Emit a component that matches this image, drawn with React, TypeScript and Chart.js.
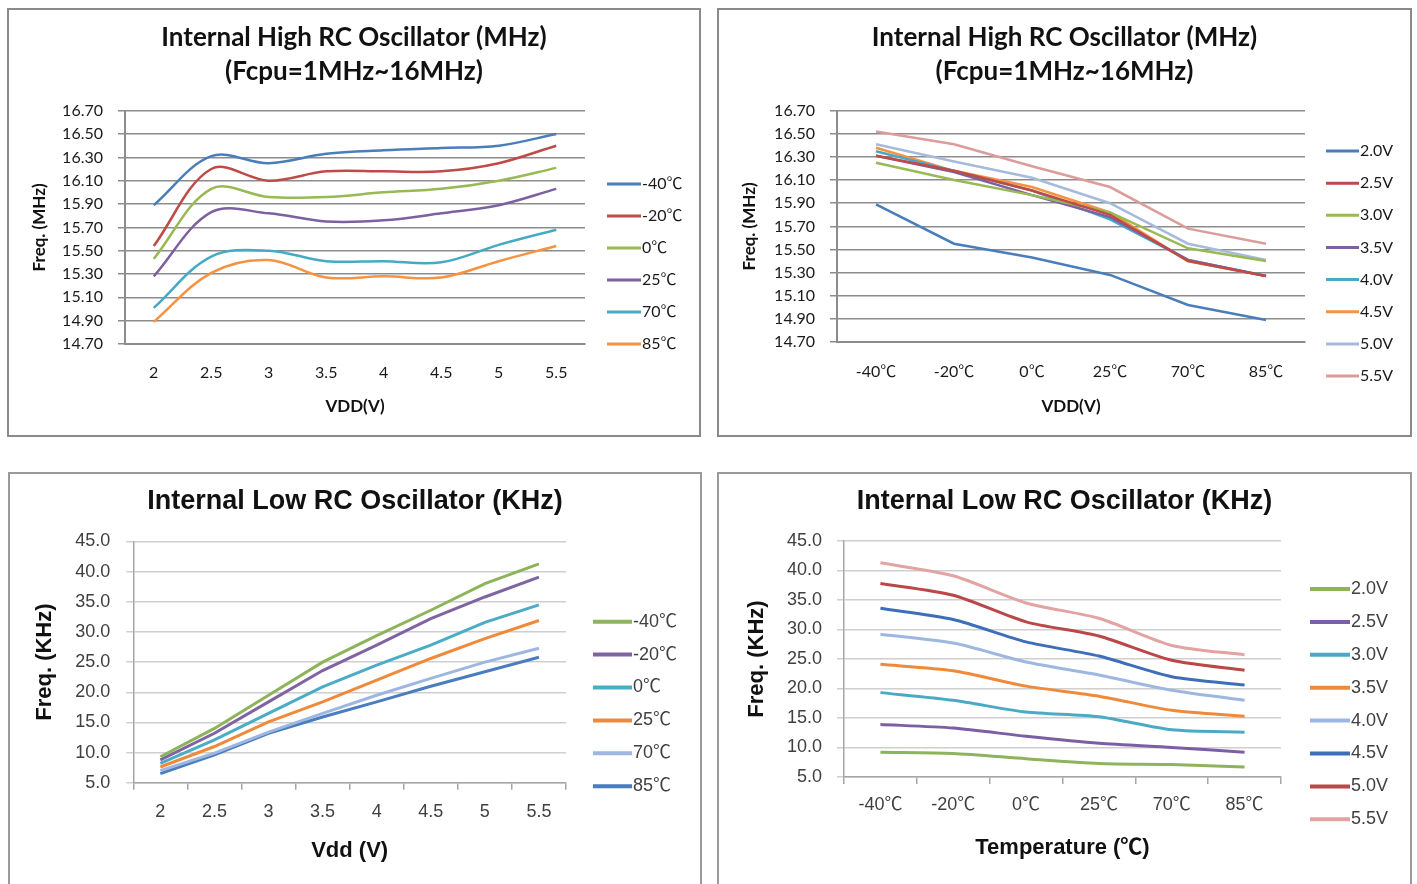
import React, { useEffect, useRef } from 'react';
import { Chart, registerables } from 'chart.js';

Chart.register(...registerables);

// ---------- categories / tick labels ----------
const vddLabels = ['2', '2.5', '3', '3.5', '4', '4.5', '5', '5.5'];
const tempLabels = ['-40℃', '-20℃', '0℃', '25℃', '70℃', '85℃'];
const voltNames = ['2.0V', '2.5V', '3.0V', '3.5V', '4.0V', '4.5V', '5.0V', '5.5V'];

// ---------- Internal High RC (MHz) vs VDD, one series per temperature ----------
const hiVddM40 = [15.89, 16.31, 16.25, 16.33, 16.36, 16.38, 16.4, 16.5];
const hiVddM20 = [15.54, 16.2, 16.1, 16.18, 16.18, 16.18, 16.25, 16.4];
const hiVdd0 = [15.43, 16.03, 15.96, 15.96, 16.0, 16.03, 16.1, 16.21];
const hiVdd25 = [15.28, 15.83, 15.82, 15.75, 15.76, 15.82, 15.89, 16.03];
const hiVdd70 = [15.01, 15.45, 15.5, 15.41, 15.41, 15.4, 15.55, 15.68];
const hiVdd85 = [14.89, 15.31, 15.42, 15.27, 15.28, 15.27, 15.41, 15.54];

// ---------- Internal High RC (MHz) vs temperature, one series per voltage ----------
const hiT20 = [15.89, 15.55, 15.43, 15.28, 15.02, 14.89];
const hiT25 = [16.31, 16.18, 16.01, 15.8, 15.4, 15.27];
const hiT30 = [16.25, 16.1, 15.97, 15.82, 15.51, 15.4];
const hiT35 = [16.31, 16.17, 15.97, 15.78, 15.41, 15.27];
const hiT40 = [16.35, 16.18, 16.01, 15.76, 15.41, 15.27];
const hiT45 = [16.38, 16.18, 16.04, 15.82, 15.4, 15.27];
const hiT50 = [16.41, 16.26, 16.12, 15.9, 15.55, 15.41];
const hiT55 = [16.52, 16.41, 16.22, 16.04, 15.68, 15.55];

// ---------- Internal Low RC (KHz) vs Vdd, one series per temperature ----------
const loVddM40 = [9.3, 14.0, 19.5, 25.0, 29.4, 33.6, 38.0, 41.3];
const loVddM20 = [8.8, 13.2, 18.4, 23.6, 27.8, 32.2, 35.8, 39.1];
const loVdd0 = [8.2, 12.1, 16.5, 20.9, 24.5, 27.8, 31.6, 34.5];
const loVdd25 = [7.6, 11.0, 15.1, 18.4, 22.0, 25.6, 28.9, 31.9];
const loVdd70 = [7.0, 9.9, 13.4, 16.5, 19.5, 22.3, 25.0, 27.3];
const loVdd85 = [6.5, 9.6, 13.2, 15.9, 18.4, 21.0, 23.4, 25.8];

// ---------- Internal Low RC (KHz) vs temperature, one series per voltage ----------
const loT20 = [9.2, 9.0, 8.1, 7.3, 7.1, 6.7];
const loT25 = [13.9, 13.3, 11.9, 10.7, 10.0, 9.2];
const loT30 = [19.3, 18.0, 16.0, 15.2, 13.0, 12.6];
const loT35 = [24.1, 23.0, 20.4, 18.7, 16.3, 15.3];
const loT40 = [29.2, 27.7, 24.5, 22.3, 19.7, 18.0];
const loT45 = [33.6, 31.7, 27.9, 25.5, 22.0, 20.6];
const loT50 = [37.8, 35.8, 31.3, 28.9, 24.8, 23.1];
const loT55 = [41.3, 39.1, 34.5, 31.9, 27.3, 25.7];

// ---------- colours ----------
const hiTempColors = ['#4A7EBB', '#BE4B48', '#98B954', '#7D60A0', '#46AAC5', '#F69240'];
const hiVoltColors = ['#4A7EBB', '#BE4B48', '#98B954', '#7D60A0', '#46AAC5', '#F69240', '#A5BADC', '#DC9C9A'];
const loTempColors = ['#8DB35B', '#8064A2', '#4BACC6', '#F08A3B', '#9DB7E0', '#4A7DC0'];
const loVoltColors = ['#8DB35B', '#7B5FA6', '#4BAAC3', '#F08A3B', '#9DB7E0', '#3E6EB8', '#BA4848', '#E3A3A3'];

const HI_FONT = "Lato, 'Noto Sans CJK SC', sans-serif";
const LO_FONT = "'Liberation Sans', Arial, 'Noto Sans CJK SC', sans-serif";

const sideLegend = {
  id: 'sideLegend',
  afterDraw(chart: any, _a: any, o: any) {
    const ctx = chart.ctx;
    ctx.save();
    ctx.font = `${o.size}px ${o.family}`;
    ctx.textBaseline = 'middle';
    ctx.textAlign = 'left';
    chart.data.datasets.forEach((ds: any, i: number) => {
      const y = o.y + i * o.dy;
      ctx.strokeStyle = ds.borderColor;
      ctx.lineWidth = o.lw;
      ctx.beginPath();
      ctx.moveTo(o.x, y);
      ctx.lineTo(o.x + o.len, y);
      ctx.stroke();
      ctx.fillStyle = o.color;
      ctx.fillText(ds.label, o.x + o.len + 1, y);
    });
    ctx.restore();
  },
};

type Spec = any;

function buildConfig(s: Spec): any {
  const L = s.L - s.ox, R = s.R - s.ox, T = s.T - s.oy, B = s.B - s.oy;
  const tLH = s.titleLH;
  const tPadTop = s.titleY - s.oy - tLH / 2;
  const tPadBottom = T - tPadTop - s.title.length * tLH;
  const yTitleLH = s.axisTitleSize * 1.2;
  const xTickLH = s.tickSize * 1.2;
  const xTickPad = s.xTickY - s.oy - B - s.xTl - xTickLH / 2;
  const xTitlePadB = s.h - (s.xTitleY - s.oy) - yTitleLH / 2;
  const tickFont = { family: s.family, size: s.tickSize };
  const axTitleFont = { family: s.family, size: s.axisTitleSize, weight: 'bold', lineHeight: 1.2 };
  return {
    type: 'line',
    data: {
      labels: s.labels,
      datasets: s.series.map((d: any, i: number) => ({
        label: s.names[i],
        data: d,
        borderColor: s.colors[i],
        backgroundColor: s.colors[i],
        borderWidth: s.lineWidth,
        pointRadius: 0,
        tension: s.tension,
        yAxisID: 'y',
        xAxisID: 'x',
      })),
    },
    options: {
      responsive: false,
      animation: false,
      devicePixelRatio: 1,
      events: [],
      layout: { padding: 0 },
      plugins: {
        legend: { display: false },
        tooltip: { enabled: false },
        title: {
          display: true,
          text: s.title,
          color: '#111',
          font: { family: s.family, size: s.titleSize, weight: 'bold', lineHeight: `${tLH}px` },
          padding: { top: tPadTop, bottom: tPadBottom },
        },
        sideLegend: {
          x: s.lg.x - s.ox,
          y: s.lg.y - s.oy,
          dy: s.lg.dy,
          len: s.lg.len,
          lw: s.lg.lw,
          size: s.lg.size,
          family: s.family,
          color: s.textColor,
        },
      },
      scales: {
        x: {
          type: 'category',
          offset: true,
          grid: {
            display: s.xTl > 0,
            drawOnChartArea: false,
            drawTicks: s.xTl > 0,
            tickLength: s.xTl,
            offset: true,
            color: s.axisColor,
            lineWidth: 1.5,
          },
          border: { display: true, color: s.axisColor, width: s.axisWidth },
          ticks: { font: tickFont, color: s.textColor, padding: xTickPad, autoSkip: false, maxRotation: 0 },
          title: {
            display: true,
            text: s.xTitle,
            color: '#111',
            font: axTitleFont,
            padding: { top: 0, bottom: xTitlePadB },
          },
          afterFit: (sc: any) => {
            sc.height = s.h - B;
          },
        },
        y: {
          type: 'linear',
          position: 'left',
          min: s.yMin,
          max: s.yMax,
          ticks: {
            stepSize: s.yStep,
            font: tickFont,
            color: s.textColor,
            padding: s.yGap - s.yTl,
            callback: (v: any) => Number(v).toFixed(s.yDec),
          },
          grid: { color: s.gridColor, lineWidth: s.gridWidth, drawTicks: true, tickLength: s.yTl },
          border: { display: true, color: s.axisColor, width: s.axisWidth },
          title: {
            display: true,
            text: s.yTitle,
            color: '#111',
            font: axTitleFont,
            padding: { top: s.yTitleX - s.ox - yTitleLH / 2, bottom: 0 },
          },
          afterFit: (sc: any) => {
            sc.width = L;
          },
        },
        yR: {
          type: 'linear',
          position: 'right',
          display: true,
          grid: { display: false, drawTicks: false },
          border: { display: false },
          ticks: { display: false },
          afterFit: (sc: any) => {
            sc.width = s.w - R;
          },
        },
      },
    },
    plugins: [sideLegend],
  };
}

const hiCommon = {
  family: HI_FONT,
  titleSize: 26,
  titleLH: 34,
  titleY: 38,
  title: ['Internal High RC Oscillator (MHz)', '(Fcpu=1MHz~16MHz)'],
  tickSize: 16,
  textColor: '#1a1a1a',
  axisTitleSize: 17,
  yTl: 7,
  yGap: 22,
  xTl: 0,
  gridColor: '#8c8c8c',
  gridWidth: 1.5,
  axisColor: '#8c8c8c',
  axisWidth: 2,
  lineWidth: 2.5,
  yMin: 14.7,
  yMax: 16.7,
  yStep: 0.2,
  yDec: 2,
  yTitle: 'Freq. (MHz)',
  xTitle: 'VDD(V)',
  xTitleY: 407,
  border: '#8a8a8a',
  open: false,
};

const loCommon = {
  family: LO_FONT,
  titleSize: 27,
  titleLH: 31,
  titleY: 502,
  title: ['Internal Low RC Oscillator (KHz)'],
  tickSize: 18,
  textColor: '#404040',
  axisTitleSize: 22,
  yTl: 7,
  xTl: 7,
  gridColor: '#cfcfcf',
  gridWidth: 1.5,
  axisColor: '#a6a6a6',
  axisWidth: 1.5,
  lineWidth: 3,
  yMin: 5,
  yMax: 45,
  yStep: 5,
  yDec: 1,
  yTitle: 'Freq. (KHz)',
  border: '#9a9a9a',
  open: true,
};

const specs: Spec[] = [
  {
    ...hiCommon,
    ox: 7, oy: 8, w: 694, h: 429,
    L: 125, R: 585, T: 110.7, B: 344,
    yTitleX: 40, xTickY: 373,
    labels: vddLabels,
    names: tempLabels,
    series: [hiVddM40, hiVddM20, hiVdd0, hiVdd25, hiVdd70, hiVdd85],
    colors: hiTempColors,
    tension: 0.35,
    lg: { x: 607, y: 184, dy: 32, len: 34, lw: 3, size: 16 },
  },
  {
    ...hiCommon,
    ox: 717, oy: 8, w: 695, h: 429,
    L: 837, R: 1305, T: 110.7, B: 342,
    yTitleX: 750, xTickY: 372,
    labels: tempLabels,
    names: voltNames,
    series: [hiT20, hiT25, hiT30, hiT35, hiT40, hiT45, hiT50, hiT55],
    colors: hiVoltColors,
    tension: 0,
    lg: { x: 1326, y: 151, dy: 32.15, len: 33, lw: 3, size: 16 },
  },
  {
    ...loCommon,
    ox: 8, oy: 472, w: 694, h: 412,
    L: 133.3, R: 566, T: 541.5, B: 782.7,
    yGap: 23,
    yTitleX: 45, xTickY: 812,
    xTitle: 'Vdd (V)', xTitleY: 851,
    labels: vddLabels,
    names: tempLabels,
    series: [loVddM40, loVddM20, loVdd0, loVdd25, loVdd70, loVdd85],
    colors: loTempColors,
    tension: 0,
    lg: { x: 593, y: 621.7, dy: 32.9, len: 39, lw: 4, size: 18 },
  },
  {
    ...loCommon,
    ox: 717, oy: 472, w: 695, h: 412,
    L: 844, R: 1281, T: 541, B: 777,
    yGap: 22,
    yTitleX: 757, xTickY: 805,
    xTitle: 'Temperature (℃)', xTitleY: 848,
    labels: tempLabels,
    names: voltNames,
    series: [loT20, loT25, loT30, loT35, loT40, loT45, loT50, loT55],
    colors: loVoltColors,
    tension: 0.25,
    lg: { x: 1310, y: 589, dy: 32.9, len: 40, lw: 4, size: 18 },
  },
];

function Panel({ spec }: { spec: Spec }) {
  const ref = useRef<HTMLCanvasElement>(null);
  useEffect(() => {
    const chart = new Chart(ref.current as HTMLCanvasElement, buildConfig(spec));
    return () => chart.destroy();
  }, [spec]);
  return (
    <div style={{ position: 'absolute', left: spec.ox, top: spec.oy, width: spec.w, height: spec.h }}>
      <canvas
        ref={ref}
        width={spec.w}
        height={spec.h}
        style={{ display: 'block', width: spec.w, height: spec.h }}
      />
      <div
        style={{
          position: 'absolute',
          left: 0,
          top: 0,
          width: spec.w,
          height: spec.h,
          boxSizing: 'border-box',
          border: `2px solid ${spec.border}`,
          borderBottom: spec.open ? 'none' : `2px solid ${spec.border}`,
          pointerEvents: 'none',
        }}
      />
    </div>
  );
}

export default function App() {
  return (
    <div
      style={{
        position: 'absolute',
        left: 0,
        top: 0,
        width: 1417,
        height: 884,
        overflow: 'hidden',
        background: '#fff',
      }}
    >
      {specs.map((s, i) => (
        <Panel key={i} spec={s} />
      ))}
    </div>
  );
}
